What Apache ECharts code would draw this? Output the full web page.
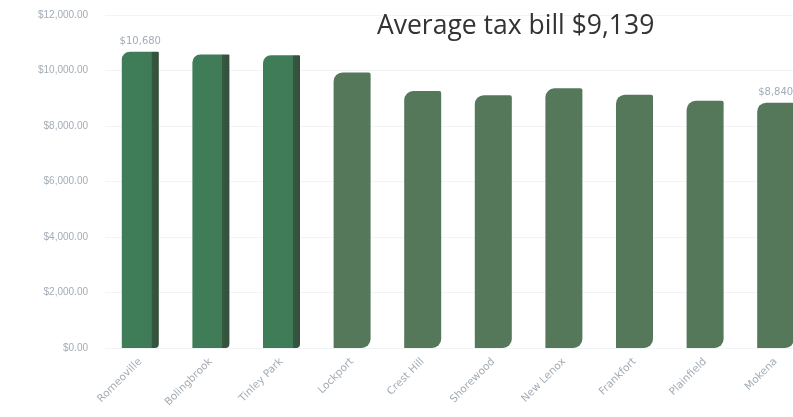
<!DOCTYPE html>
<html><head><meta charset="utf-8">
<script src="https://cdn.jsdelivr.net/npm/echarts@6/dist/echarts.min.js"></script>
<style>html,body{margin:0;padding:0;background:#fff;overflow:hidden;width:793px;height:417px}#c{width:830px;height:417px}</style>
</head><body><div id="c"></div>
<script>
const categories = ['Romeoville','Bolingbrook','Tinley Park','Lockport','Crest Hill','Shorewood','New Lenox','Frankfort','Plainfield','Mokena'];
const taxBills = [10680, 10580, 10550, 9930, 9260, 9110, 9360, 9130, 8910, 8840];
const highlighted = [true, true, true, false, false, false, false, false, false, false];
const labelled = [true, false, false, false, false, false, false, false, false, true];
const yTicks = [0, 2000, 4000, 6000, 8000, 10000, 12000];
const titleText = 'Average tax bill $9,139';

const fmtMoney = (v, dec) => '$' + v.toLocaleString('en-US', {minimumFractionDigits: dec, maximumFractionDigits: dec});

const hiColor = {type:'linear', x:0, y:0, x2:1, y2:0, colorStops:[
  {offset:0, color:'#3f7d59'}, {offset:0.8, color:'#3f7b57'}, {offset:0.81, color:'#36573f'}, {offset:1, color:'#33503d'}]};
const loColor = '#547859';
const txt = '#a3acb5';

const chart = echarts.init(document.getElementById('c'));
chart.setOption({
  animation: false,
  backgroundColor: '#fff',
  title: {text: titleText, left: 372, top: 8, textStyle: {fontFamily: 'Open Sans', fontWeight: 'normal', fontSize: 26.5, color: '#333'}},
  grid: {left: 105, top: 15, right: 19, bottom: 69, containLabel: false},
  xAxis: {type: 'category', data: categories,
    axisLine: {show: false}, axisTick: {show: false},
    axisLabel: {rotate: 45, interval: 0, margin: 12, color: txt, fontSize: 10.5, fontFamily: 'DejaVu Sans'}},
  yAxis: {type: 'value', min: yTicks[0], max: yTicks[yTicks.length-1], interval: 2000,
    axisLine: {show: false}, axisTick: {show: false},
    splitLine: {lineStyle: {color: '#f1f3f5', width: 1}},
    axisLabel: {color: txt, fontSize: 10, fontFamily: 'Liberation Sans', margin: 17, formatter: v => fmtMoney(v, 2)}},
  series: [{
    type: 'bar', barWidth: 37,
    data: taxBills.map((v, i) => ({
      value: v,
      itemStyle: {color: highlighted[i] ? hiColor : loColor, borderRadius: highlighted[i] ? [8, 1, 4, 0] : [9, 2, 9, 0]},
      label: {show: labelled[i], position: 'top', distance: 5, color: txt, fontSize: 10, fontFamily: 'DejaVu Sans', formatter: p => fmtMoney(p.value, 0)}
    }))
  }]
});
</script></body></html>
